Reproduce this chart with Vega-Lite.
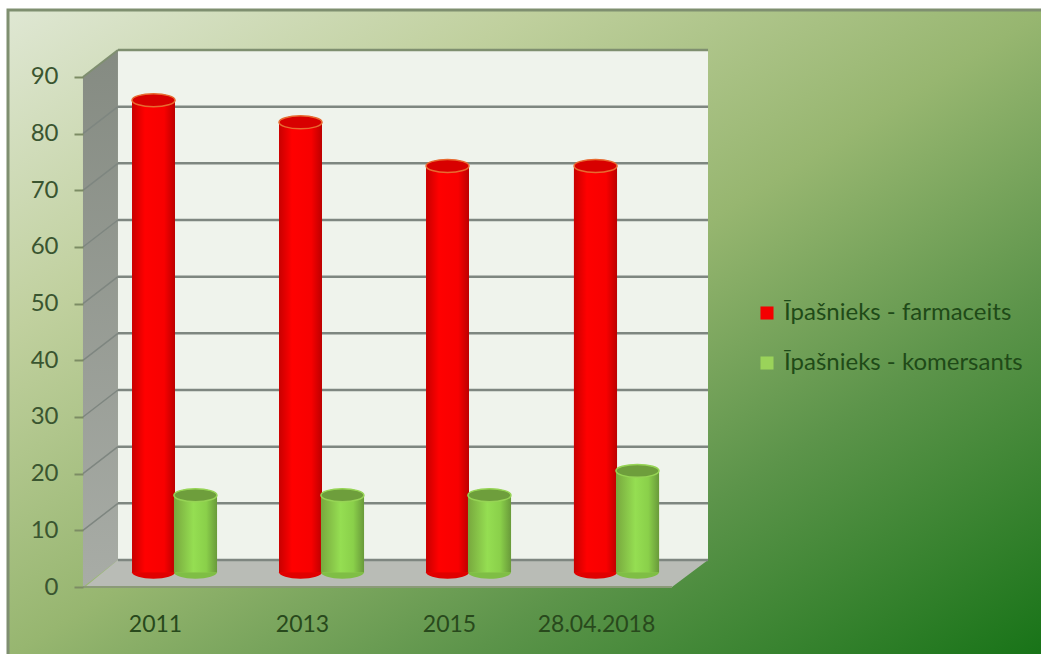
{
"$schema":"https://vega.github.io/schema/vega-lite/v6.json",
"width":1041,"height":654,"padding":0,"autosize":{"type":"none"},"background":"#ffffff",
"config":{"view":{"stroke":null},"font":"Lato"},
"datasets":{
"bars":[
{"category":"2011","series":"Īpašnieks - farmaceits","xl":-0.156,"xr":0.136,"xc":-0.01,"top":85.9,"base":2.6},
{"category":"2013","series":"Īpašnieks - farmaceits","xl":0.844,"xr":1.136,"xc":0.99,"top":82.0,"base":2.6},
{"category":"2015","series":"Īpašnieks - farmaceits","xl":1.844,"xr":2.136,"xc":1.99,"top":74.3,"base":2.6},
{"category":"28.04.2018","series":"Īpašnieks - farmaceits","xl":2.85,"xr":3.143,"xc":2.997,"top":74.3,"base":2.6},
{"category":"2011","series":"Īpašnieks - komersants","xl":0.129,"xr":0.422,"xc":0.275,"top":16.2,"base":2.6},
{"category":"2013","series":"Īpašnieks - komersants","xl":1.129,"xr":1.422,"xc":1.275,"top":16.2,"base":2.6},
{"category":"2015","series":"Īpašnieks - komersants","xl":2.129,"xr":2.422,"xc":2.275,"top":16.2,"base":2.6},
{"category":"28.04.2018","series":"Īpašnieks - komersants","xl":3.136,"xr":3.429,"xc":3.282,"top":20.5,"base":2.6}
],
"backlines":[
{"xl":-0.252,"xr":3.762,"top":14.76},{"xl":-0.252,"xr":3.762,"top":24.76},{"xl":-0.252,"xr":3.762,"top":34.76},{"xl":-0.252,"xr":3.762,"top":44.76},{"xl":-0.252,"xr":3.762,"top":54.76},{"xl":-0.252,"xr":3.762,"top":64.76},{"xl":-0.252,"xr":3.762,"top":74.76},{"xl":-0.252,"xr":3.762,"top":84.76},{"xl":-0.252,"xr":3.762,"top":4.76}
],
"sidelines":[
{"xl":-0.49,"xr":-0.252,"top":10,"low":14.76},{"xl":-0.49,"xr":-0.252,"top":20,"low":24.76},{"xl":-0.49,"xr":-0.252,"top":30,"low":34.76},{"xl":-0.49,"xr":-0.252,"top":40,"low":44.76},{"xl":-0.49,"xr":-0.252,"top":50,"low":54.76},{"xl":-0.49,"xr":-0.252,"top":60,"low":64.76},{"xl":-0.49,"xr":-0.252,"top":70,"low":74.76},{"xl":-0.49,"xr":-0.252,"top":80,"low":84.76}
]
},
"encoding":{
"x":{"field":"xl","type":"quantitative","title":null,"scale":{"domain":[-1.0544,6.0272],"nice":false,"zero":false},
 "axis":{"values":[0,1,2,3],"labelExpr":"['2011','2013','2015','28.04.2018'][datum.value]","offset":-45,"ticks":false,"domain":false,"grid":false,"labelPadding":4,"labelFontSize":23,"labelColor":"#28491c","labelFont":"Lato","zindex":1}},
"y":{"field":"top","type":"quantitative","title":null,"scale":{"domain":[-11.82,103.58],"nice":false,"zero":false},
 "axis":{"values":[0,10,20,30,40,50,60,70,80,90],"offset":-83,"domain":false,"grid":false,"tickSize":9,"tickWidth":2,"tickColor":"#7c8c64","labelPadding":16,"labelFontSize":24,"labelColor":"#3a5530","labelFont":"Lato","zindex":1}}
},
"layer":[
{"data":{"values":[{"xl":-1.0,"xr":6.07,"top":101.8,"low":-12.3}]},
 "mark":{"type":"rect","stroke":"#7f8f70","strokeWidth":3,"fill":{"gradient":"linear","x1":0,"y1":0,"x2":1,"y2":1,"stops":[{"offset":0,"color":"#dfe7d3"},{"offset":0.25,"color":"#c0d09e"},{"offset":0.5,"color":"#97b670"},{"offset":0.72,"color":"#5c944a"},{"offset":1,"color":"#177317"}]}},
 "encoding":{"x2":{"field":"xr"},"y2":{"field":"low"}}},
{"data":{"values":[{"xl":-0.252,"xr":3.762,"top":94.76,"low":4.76}]},
 "mark":{"type":"rect","fill":"#eff3ec"},
 "encoding":{"x2":{"field":"xr"},"y2":{"field":"low"}}},
{"data":{"values":[{"xl":-0.49,"top":0,"low":90},{"xl":-0.252,"top":4.76,"low":94.76}]},
 "mark":{"type":"area","fill":{"gradient":"linear","x1":0,"y1":0,"x2":0,"y2":1,"stops":[{"offset":0,"color":"#858b82"},{"offset":1,"color":"#a8aca6"}]},"orient":"vertical"},
 "encoding":{"y2":{"field":"low"}}},
{"data":{"values":[{"xl":-0.476,"top":0,"low":0},{"xl":-0.252,"top":0,"low":4.76},{"xl":3.517,"top":0,"low":4.76},{"xl":3.762,"top":4.76,"low":4.76}]},
 "mark":{"type":"area","fill":"#b9bcb6","orient":"vertical"},
 "encoding":{"y2":{"field":"low"}}},
{"data":{"name":"backlines"},
 "mark":{"type":"rule","stroke":"#7e8680","strokeWidth":2.5},
 "encoding":{"x2":{"field":"xr"}}},
{"data":{"name":"sidelines"},
 "mark":{"type":"rule","stroke":"#7e8680","strokeWidth":1.5},
 "encoding":{"x2":{"field":"xr"},"y2":{"field":"low"}}},
{"data":{"values":[{"xl":-0.49,"xr":-0.252,"top":90,"low":94.76}]},
 "mark":{"type":"rule","stroke":"#7f8f70","strokeWidth":2},
 "encoding":{"x2":{"field":"xr"},"y2":{"field":"low"}}},
{"data":{"values":[{"xl":-0.252,"xr":3.762,"top":94.76}]},
 "mark":{"type":"rule","stroke":"#7f8f70","strokeWidth":2.5},
 "encoding":{"x2":{"field":"xr"}}},
{"data":{"values":[{"xl":-0.49,"xr":3.517,"top":0}]},
 "mark":{"type":"rule","stroke":"#8b9a78","strokeWidth":2},
 "encoding":{"x2":{"field":"xr"}}},
{"data":{"name":"bars"},"transform":[{"filter":"datum.series=='Īpašnieks - farmaceits'"}],
 "mark":{"type":"point","filled":true,"opacity":1,"shape":"M-1,0A1,0.3,0,1,1,1,0A1,0.3,0,1,1,-1,0Z","size":1849,"fill":"#e00000"},
 "encoding":{"x":{"field":"xc","type":"quantitative"},"y":{"field":"base","type":"quantitative"}}},
{"data":{"name":"bars"},"transform":[{"filter":"datum.series=='Īpašnieks - komersants'"}],
 "mark":{"type":"point","filled":true,"opacity":1,"shape":"M-1,0A1,0.3,0,1,1,1,0A1,0.3,0,1,1,-1,0Z","size":1849,"fill":"#7fbe45"},
 "encoding":{"x":{"field":"xc","type":"quantitative"},"y":{"field":"base","type":"quantitative"}}},
{"data":{"name":"bars"},
 "mark":{"type":"rect"},
 "encoding":{"x2":{"field":"xr"},"y2":{"field":"base"},
  "color":{"field":"series","type":"nominal","sort":["Īpašnieks - farmaceits","Īpašnieks - komersants"],
   "scale":{"domain":["Īpašnieks - farmaceits","Īpašnieks - komersants"],"range":["#f40000","#9ad35a"]},
   "legend":{"title":null,"orient":"none","legendX":755,"legendY":301,"symbolType":"square","symbolSize":170,"symbolStrokeWidth":0,"symbolOpacity":1,"labelFontSize":24,"labelFont":"Lato","labelColor":"#1f4a18","labelLimit":320,"rowPadding":26,"labelOffset":5,"zindex":2}}}},
{"data":{"name":"bars"},"transform":[{"filter":"datum.series=='Īpašnieks - farmaceits'"}],
 "mark":{"type":"rect","fill":{"gradient":"linear","x1":0,"y1":0,"x2":1,"y2":0,"stops":[{"offset":0,"color":"#c80000"},{"offset":0.3,"color":"#ff0000"},{"offset":0.75,"color":"#f80000"},{"offset":1,"color":"#bc0000"}]}},
 "encoding":{"x2":{"field":"xr"},"y2":{"field":"base"}}},
{"data":{"name":"bars"},"transform":[{"filter":"datum.series=='Īpašnieks - komersants'"}],
 "mark":{"type":"rect","fill":{"gradient":"linear","x1":0,"y1":0,"x2":1,"y2":0,"stops":[{"offset":0,"color":"#78a83e"},{"offset":0.45,"color":"#95de52"},{"offset":0.75,"color":"#8ad04a"},{"offset":1,"color":"#699a3a"}]}},
 "encoding":{"x2":{"field":"xr"},"y2":{"field":"base"}}},
{"data":{"name":"bars"},"transform":[{"filter":"datum.series=='Īpašnieks - farmaceits'"}],
 "mark":{"type":"point","filled":false,"opacity":1,"shape":"M-1,0A1,0.3,0,1,1,1,0A1,0.3,0,1,1,-1,0Z","size":1849,"fill":"#d80000","fillOpacity":1,"stroke":"#e86a30","strokeWidth":1.5},
 "encoding":{"x":{"field":"xc","type":"quantitative"}}},
{"data":{"name":"bars"},"transform":[{"filter":"datum.series=='Īpašnieks - komersants'"}],
 "mark":{"type":"point","filled":false,"opacity":1,"shape":"M-1,0A1,0.3,0,1,1,1,0A1,0.3,0,1,1,-1,0Z","size":1849,"fill":"#6e9e3c","fillOpacity":1,"stroke":"#96d455","strokeWidth":1.5},
 "encoding":{"x":{"field":"xc","type":"quantitative"}}}
]
}
